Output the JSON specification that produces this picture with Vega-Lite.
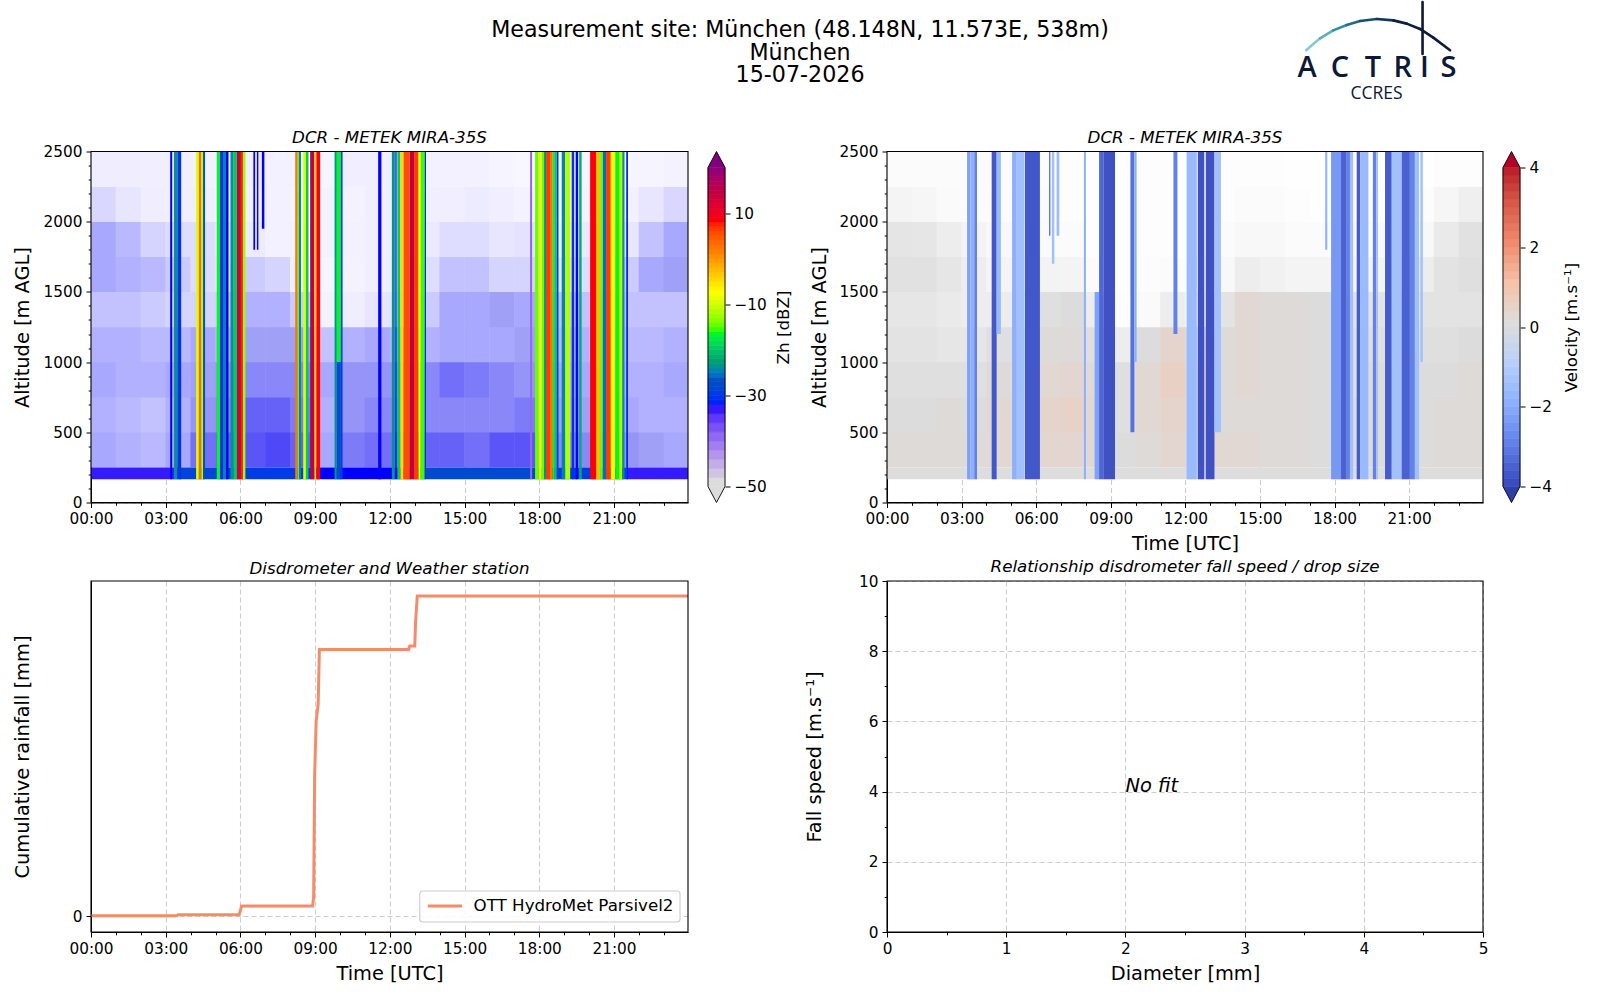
{"$schema":"https://vega.github.io/schema/vega-lite/v6.json","background":"#ffffff","padding":{"left":12,"top":0,"right":0,"bottom":12},"bounds":"flush","columns":5,"spacing":{"row":78.5,"column":20},"resolve":{"scale":{"color":"independent","stroke":"independent"}},
"config":{"view":{"stroke":null},"font":"DejaVu Sans","axis":{"labelFont":"DejaVu Sans","labelFontSize":15.3,"labelColor":"#000000","tickColor":"#000000","tickSize":5,"labelPadding":4,"domainColor":"#000000","gridDash":[5,3],"gridColor":"#cccccc","gridWidth":1.1,"titleFont":"DejaVu Sans","titleFontSize":19.4,"titleFontWeight":"normal","titleColor":"#000000","labelOverlap":false,"labelFlush":false,"labelBound":false,"format":"d","zindex":1},"title":{"font":"DejaVu Sans","fontSize":16.7,"fontStyle":"italic","fontWeight":"normal","offset":-2,"anchor":"middle","frame":"group","color":"#000000"}},
"datasets":{
"zbg":[{"t":0.5,"h":375,"d":0.45},{"t":0.5,"h":625,"d":0.4},{"t":0.5,"h":875,"d":0.45},{"t":0.5,"h":1125,"d":0.4},{"t":0.5,"h":1375,"d":0.3},{"t":0.5,"h":1625,"d":0.45},{"t":0.5,"h":1875,"d":0.45},{"t":0.5,"h":2125,"d":0.18},{"t":0.5,"h":2375,"d":0.06},
{"t":1.5,"h":375,"d":0.4},{"t":1.5,"h":625,"d":0.35},{"t":1.5,"h":875,"d":0.4},{"t":1.5,"h":1125,"d":0.4},{"t":1.5,"h":1375,"d":0.3},{"t":1.5,"h":1625,"d":0.4},{"t":1.5,"h":1875,"d":0.35},{"t":1.5,"h":2125,"d":0.1},{"t":1.5,"h":2375,"d":0.06},
{"t":2.5,"h":375,"d":0.35},{"t":2.5,"h":625,"d":0.3},{"t":2.5,"h":875,"d":0.4},{"t":2.5,"h":1125,"d":0.35},{"t":2.5,"h":1375,"d":0.25},{"t":2.5,"h":1625,"d":0.35},{"t":2.5,"h":1875,"d":0.2},{"t":2.5,"h":2125,"d":0.06},{"t":2.5,"h":2375,"d":0.05},
{"t":3.5,"h":375,"d":0.45},{"t":3.5,"h":625,"d":0.4},{"t":3.5,"h":875,"d":0.45},{"t":3.5,"h":1125,"d":0.35},{"t":3.5,"h":1375,"d":0.2},{"t":3.5,"h":1625,"d":0.25},{"t":3.5,"h":1875,"d":0.15},{"t":3.5,"h":2125,"d":0.05},{"t":3.5,"h":2375,"d":0.05},
{"t":4.5,"h":375,"d":0.7},{"t":4.5,"h":625,"d":0.55},{"t":4.5,"h":875,"d":0.5},{"t":4.5,"h":1125,"d":0.45},{"t":4.5,"h":1375,"d":0.2},{"t":4.5,"h":1625,"d":0.15},{"t":4.5,"h":1875,"d":0.15},{"t":4.5,"h":2125,"d":0.05},{"t":4.5,"h":2375,"d":0.04},
{"t":5.5,"h":375,"d":0.75},{"t":5.5,"h":625,"d":0.6},{"t":5.5,"h":875,"d":0.55},{"t":5.5,"h":1125,"d":0.4},{"t":5.5,"h":1375,"d":0.25},{"t":5.5,"h":1625,"d":0.12},{"t":5.5,"h":1875,"d":0.1},{"t":5.5,"h":2125,"d":0.03},{"t":5.5,"h":2375,"d":0.03},
{"t":6.5,"h":375,"d":0.8},{"t":6.5,"h":625,"d":0.75},{"t":6.5,"h":875,"d":0.6},{"t":6.5,"h":1125,"d":0.5},{"t":6.5,"h":1375,"d":0.4},{"t":6.5,"h":1625,"d":0.25},{"t":6.5,"h":1875,"d":0.07},{"t":6.5,"h":2125,"d":0.04},{"t":6.5,"h":2375,"d":0.05},
{"t":7.5,"h":375,"d":0.85},{"t":7.5,"h":625,"d":0.75},{"t":7.5,"h":875,"d":0.6},{"t":7.5,"h":1125,"d":0.5},{"t":7.5,"h":1375,"d":0.4},{"t":7.5,"h":1625,"d":0.2},{"t":7.5,"h":1875,"d":0.04},{"t":7.5,"h":2125,"d":0.04},{"t":7.5,"h":2375,"d":0.04},
{"t":8.5,"h":375,"d":0.75},{"t":8.5,"h":625,"d":0.65},{"t":8.5,"h":875,"d":0.6},{"t":8.5,"h":1125,"d":0.5},{"t":8.5,"h":1375,"d":0.25},{"t":8.5,"h":1625,"d":0.05},{"t":8.5,"h":1875,"d":0.03},{"t":8.5,"h":2125,"d":0.02},{"t":8.5,"h":2375,"d":0.03},
{"t":9.5,"h":375,"d":0.45},{"t":9.5,"h":625,"d":0.4},{"t":9.5,"h":875,"d":0.45},{"t":9.5,"h":1125,"d":0.3},{"t":9.5,"h":1375,"d":0.03},{"t":9.5,"h":1625,"d":0.02},{"t":9.5,"h":1875,"d":0.03},{"t":9.5,"h":2125,"d":0.03},{"t":9.5,"h":2375,"d":0.02},
{"t":10.5,"h":375,"d":0.65},{"t":10.5,"h":625,"d":0.55},{"t":10.5,"h":875,"d":0.55},{"t":10.5,"h":1125,"d":0.4},{"t":10.5,"h":1375,"d":0.06},{"t":10.5,"h":1625,"d":0.03},{"t":10.5,"h":1875,"d":0.04},{"t":10.5,"h":2125,"d":0.03},{"t":10.5,"h":2375,"d":0.05},
{"t":11.5,"h":375,"d":0.7},{"t":11.5,"h":625,"d":0.6},{"t":11.5,"h":875,"d":0.55},{"t":11.5,"h":1125,"d":0.45},{"t":11.5,"h":1375,"d":0.1},{"t":11.5,"h":1625,"d":0.05},{"t":11.5,"h":1875,"d":0.05},{"t":11.5,"h":2125,"d":0.05},{"t":11.5,"h":2375,"d":0.05},
{"t":12.5,"h":375,"d":0.7},{"t":12.5,"h":625,"d":0.6},{"t":12.5,"h":875,"d":0.55},{"t":12.5,"h":1125,"d":0.4},{"t":12.5,"h":1375,"d":0.12},{"t":12.5,"h":1625,"d":0.06},{"t":12.5,"h":1875,"d":0.05},{"t":12.5,"h":2125,"d":0.05},{"t":12.5,"h":2375,"d":0.05},
{"t":13.5,"h":375,"d":0.75},{"t":13.5,"h":625,"d":0.6},{"t":13.5,"h":875,"d":0.6},{"t":13.5,"h":1125,"d":0.4},{"t":13.5,"h":1375,"d":0.25},{"t":13.5,"h":1625,"d":0.15},{"t":13.5,"h":1875,"d":0.08},{"t":13.5,"h":2125,"d":0.05},{"t":13.5,"h":2375,"d":0.04},
{"t":14.5,"h":375,"d":0.75},{"t":14.5,"h":625,"d":0.6},{"t":14.5,"h":875,"d":0.7},{"t":14.5,"h":1125,"d":0.45},{"t":14.5,"h":1375,"d":0.45},{"t":14.5,"h":1625,"d":0.3},{"t":14.5,"h":1875,"d":0.15},{"t":14.5,"h":2125,"d":0.05},{"t":14.5,"h":2375,"d":0.04},
{"t":15.5,"h":375,"d":0.7},{"t":15.5,"h":625,"d":0.6},{"t":15.5,"h":875,"d":0.65},{"t":15.5,"h":1125,"d":0.45},{"t":15.5,"h":1375,"d":0.45},{"t":15.5,"h":1625,"d":0.3},{"t":15.5,"h":1875,"d":0.15},{"t":15.5,"h":2125,"d":0.07},{"t":15.5,"h":2375,"d":0.04},
{"t":16.5,"h":375,"d":0.8},{"t":16.5,"h":625,"d":0.6},{"t":16.5,"h":875,"d":0.6},{"t":16.5,"h":1125,"d":0.45},{"t":16.5,"h":1375,"d":0.5},{"t":16.5,"h":1625,"d":0.2},{"t":16.5,"h":1875,"d":0.1},{"t":16.5,"h":2125,"d":0.05},{"t":16.5,"h":2375,"d":0.02},
{"t":17.5,"h":375,"d":0.8},{"t":17.5,"h":625,"d":0.65},{"t":17.5,"h":875,"d":0.55},{"t":17.5,"h":1125,"d":0.5},{"t":17.5,"h":1375,"d":0.45},{"t":17.5,"h":1625,"d":0.2},{"t":17.5,"h":1875,"d":0.12},{"t":17.5,"h":2125,"d":0.03},{"t":17.5,"h":2375,"d":0.01},
{"t":18.5,"h":375,"d":0.6},{"t":18.5,"h":625,"d":0.5},{"t":18.5,"h":875,"d":0.45},{"t":18.5,"h":1125,"d":0.35},{"t":18.5,"h":1375,"d":0.3},{"t":18.5,"h":1625,"d":0.1},{"t":18.5,"h":1875,"d":0.03},{"t":18.5,"h":2125,"d":0.01},{"t":18.5,"h":2375,"d":0.01},
{"t":19.5,"h":375,"d":0.6},{"t":19.5,"h":625,"d":0.5},{"t":19.5,"h":875,"d":0.45},{"t":19.5,"h":1125,"d":0.4},{"t":19.5,"h":1375,"d":0.3},{"t":19.5,"h":1625,"d":0.15},{"t":19.5,"h":1875,"d":0.08},{"t":19.5,"h":2125,"d":0.03},{"t":19.5,"h":2375,"d":0.02},
{"t":20.5,"h":375,"d":0.6},{"t":20.5,"h":625,"d":0.5},{"t":20.5,"h":875,"d":0.45},{"t":20.5,"h":1125,"d":0.35},{"t":20.5,"h":1375,"d":0.3},{"t":20.5,"h":1625,"d":0.15},{"t":20.5,"h":1875,"d":0.08},{"t":20.5,"h":2125,"d":0.03},{"t":20.5,"h":2375,"d":0.02},
{"t":21.5,"h":375,"d":0.55},{"t":21.5,"h":625,"d":0.45},{"t":21.5,"h":875,"d":0.4},{"t":21.5,"h":1125,"d":0.35},{"t":21.5,"h":1375,"d":0.3},{"t":21.5,"h":1625,"d":0.25},{"t":21.5,"h":1875,"d":0.1},{"t":21.5,"h":2125,"d":0.04},{"t":21.5,"h":2375,"d":0.02},
{"t":22.5,"h":375,"d":0.5},{"t":22.5,"h":625,"d":0.4},{"t":22.5,"h":875,"d":0.4},{"t":22.5,"h":1125,"d":0.35},{"t":22.5,"h":1375,"d":0.3},{"t":22.5,"h":1625,"d":0.45},{"t":22.5,"h":1875,"d":0.3},{"t":22.5,"h":2125,"d":0.1},{"t":22.5,"h":2375,"d":0.02},
{"t":23.5,"h":375,"d":0.45},{"t":23.5,"h":625,"d":0.4},{"t":23.5,"h":875,"d":0.45},{"t":23.5,"h":1125,"d":0.4},{"t":23.5,"h":1375,"d":0.3},{"t":23.5,"h":1625,"d":0.5},{"t":23.5,"h":1875,"d":0.45},{"t":23.5,"h":2125,"d":0.18},{"t":23.5,"h":2375,"d":0.03}],
"zst":[{"t":0,"t2":3.4,"h":165,"h2":250,"z":-34},{"t":3.4,"t2":6,"h":165,"h2":250,"z":-29},{"t":6,"t2":9,"h":165,"h2":250,"z":-30},{"t":9,"t2":10,"h":165,"h2":250,"z":-33},{"t":10,"t2":12.5,"h":165,"h2":250,"z":-33},{"t":12.5,"t2":18,"h":165,"h2":250,"z":-28},{"t":18,"t2":21.5,"h":165,"h2":250,"z":-30},{"t":21.5,"t2":24,"h":165,"h2":250,"z":-34},
{"t":3.18,"t2":3.26,"h":165,"h2":2500,"z":-33},{"t":3.33,"t2":3.47,"h":165,"h2":2500,"z":-24},{"t":3.47,"t2":3.62,"h":165,"h2":2500,"z":-31},{"t":4.22,"t2":4.33,"h":165,"h2":2500,"z":-10},{"t":4.33,"t2":4.43,"h":165,"h2":2500,"z":3},{"t":4.43,"t2":4.5,"h":165,"h2":2500,"z":-12},{"t":4.5,"t2":4.58,"h":165,"h2":2500,"z":-27},{"t":5.05,"t2":5.18,"h":165,"h2":2500,"z":-17},{"t":5.18,"t2":5.3,"h":165,"h2":2500,"z":-31},{"t":5.3,"t2":5.42,"h":165,"h2":2500,"z":-25},{"t":5.42,"t2":5.52,"h":165,"h2":2500,"z":-33},{"t":5.6,"t2":5.73,"h":165,"h2":2500,"z":-24},{"t":5.73,"t2":5.86,"h":165,"h2":2500,"z":-20},{"t":5.86,"t2":6.02,"h":165,"h2":2500,"z":13},{"t":6.02,"t2":6.1,"h":165,"h2":2500,"z":7},{"t":6.1,"t2":6.2,"h":165,"h2":2500,"z":-13},{"t":6.52,"t2":6.59,"h":1800,"h2":2500,"z":-33},{"t":6.66,"t2":6.72,"h":1800,"h2":2500,"z":-33},{"t":6.86,"t2":6.96,"h":1950,"h2":2500,"z":-33},{"t":8.2,"t2":8.3,"h":165,"h2":2500,"z":2},{"t":8.3,"t2":8.35,"h":165,"h2":2500,"z":-15},{"t":8.35,"t2":8.43,"h":165,"h2":2500,"z":-25},{"t":8.52,"t2":8.63,"h":165,"h2":2500,"z":-10},{"t":8.63,"t2":8.73,"h":165,"h2":2500,"z":-20},{"t":8.8,"t2":8.97,"h":165,"h2":2500,"z":15},{"t":8.97,"t2":9.05,"h":165,"h2":2500,"z":-5},{"t":9.05,"t2":9.2,"h":165,"h2":2500,"z":8},{"t":9.78,"t2":9.87,"h":165,"h2":2500,"z":-24},{"t":9.87,"t2":10.03,"h":1000,"h2":2500,"z":-17},{"t":9.87,"t2":10.03,"h":165,"h2":1000,"z":-28},{"t":10.03,"t2":10.1,"h":165,"h2":2500,"z":-30},{"t":11.53,"t2":11.66,"h":165,"h2":2500,"z":-33},{"t":12.08,"t2":12.2,"h":165,"h2":2500,"z":-24},{"t":12.22,"t2":12.27,"h":165,"h2":2500,"z":-33},{"t":12.3,"t2":12.42,"h":165,"h2":2500,"z":-20},{"t":12.42,"t2":12.55,"h":165,"h2":2500,"z":-5},{"t":12.55,"t2":12.8,"h":165,"h2":2500,"z":5},{"t":12.8,"t2":12.97,"h":165,"h2":2500,"z":14},{"t":12.97,"t2":13.15,"h":165,"h2":2500,"z":6},{"t":13.15,"t2":13.24,"h":165,"h2":2500,"z":-10},{"t":13.24,"t2":13.4,"h":165,"h2":2500,"z":-16},{"t":13.4,"t2":13.45,"h":165,"h2":2500,"z":-32},{"t":17.63,"t2":17.71,"h":165,"h2":2500,"z":-40},{"t":17.83,"t2":17.96,"h":165,"h2":2500,"z":-15},{"t":17.96,"t2":18.03,"h":165,"h2":2500,"z":-11},{"t":18.03,"t2":18.1,"h":165,"h2":2500,"z":-8},{"t":18.1,"t2":18.19,"h":165,"h2":2500,"z":-15},{"t":18.19,"t2":18.27,"h":165,"h2":2500,"z":-24},{"t":18.27,"t2":18.43,"h":165,"h2":2500,"z":6},{"t":18.43,"t2":18.54,"h":165,"h2":2500,"z":2},{"t":18.54,"t2":18.6,"h":165,"h2":2500,"z":-17},{"t":18.6,"t2":18.7,"h":165,"h2":2500,"z":-20},{"t":18.7,"t2":18.77,"h":165,"h2":2500,"z":-30},{"t":18.9,"t2":19.04,"h":165,"h2":2500,"z":-25},{"t":19.04,"t2":19.24,"h":165,"h2":2500,"z":-12},{"t":19.3,"t2":19.4,"h":165,"h2":2500,"z":-31},{"t":19.46,"t2":19.56,"h":165,"h2":2500,"z":-33},{"t":19.6,"t2":19.7,"h":165,"h2":2500,"z":-22},{"t":20.04,"t2":20.28,"h":165,"h2":2500,"z":8},{"t":20.28,"t2":20.44,"h":165,"h2":2500,"z":-3},{"t":20.44,"t2":20.55,"h":165,"h2":2500,"z":-15},{"t":20.55,"t2":20.68,"h":165,"h2":2500,"z":-26},{"t":20.68,"t2":20.87,"h":165,"h2":2500,"z":6},{"t":20.87,"t2":21.05,"h":165,"h2":2500,"z":-8},{"t":21.05,"t2":21.2,"h":165,"h2":2500,"z":-17},{"t":21.2,"t2":21.33,"h":165,"h2":2500,"z":-12},{"t":21.33,"t2":21.42,"h":165,"h2":2500,"z":-24},{"t":21.49,"t2":21.56,"h":165,"h2":2500,"z":-32}],
"vbg":[{"t":0.5,"h":375,"d":1.1},{"t":0.5,"h":625,"d":1},{"t":0.5,"h":875,"d":0.9},{"t":0.5,"h":1125,"d":0.8},{"t":0.5,"h":1375,"d":0.7},{"t":0.5,"h":1625,"d":0.85},{"t":0.5,"h":1875,"d":0.75},{"t":0.5,"h":2125,"d":0.3},{"t":0.5,"h":2375,"d":0.12},
{"t":1.5,"h":375,"d":1.1},{"t":1.5,"h":625,"d":1},{"t":1.5,"h":875,"d":0.9},{"t":1.5,"h":1125,"d":0.8},{"t":1.5,"h":1375,"d":0.7},{"t":1.5,"h":1625,"d":0.85},{"t":1.5,"h":1875,"d":0.7},{"t":1.5,"h":2125,"d":0.25},{"t":1.5,"h":2375,"d":0.12},
{"t":2.5,"h":375,"d":1.1},{"t":2.5,"h":625,"d":1.1},{"t":2.5,"h":875,"d":0.9},{"t":2.5,"h":1125,"d":0.7},{"t":2.5,"h":1375,"d":0.6},{"t":2.5,"h":1625,"d":0.7},{"t":2.5,"h":1875,"d":0.5},{"t":2.5,"h":2125,"d":0.15},{"t":2.5,"h":2375,"d":0.1},
{"t":3.5,"h":375,"d":1.1},{"t":3.5,"h":625,"d":1},{"t":3.5,"h":875,"d":0.9},{"t":3.5,"h":1125,"d":0.7},{"t":3.5,"h":1375,"d":0.5},{"t":3.5,"h":1625,"d":0.5},{"t":3.5,"h":1875,"d":0.3},{"t":3.5,"h":2125,"d":0.12},{"t":3.5,"h":2375,"d":0.1},
{"t":4.5,"h":375,"d":1.2},{"t":4.5,"h":625,"d":1.2},{"t":4.5,"h":875,"d":1.1},{"t":4.5,"h":1125,"d":0.9},{"t":4.5,"h":1375,"d":0.5},{"t":4.5,"h":1625,"d":0.3},{"t":4.5,"h":1875,"d":0.2},{"t":4.5,"h":2125,"d":0.1},{"t":4.5,"h":2375,"d":0.1},
{"t":5.5,"h":375,"d":1.3},{"t":5.5,"h":625,"d":1.3},{"t":5.5,"h":875,"d":1.2},{"t":5.5,"h":1125,"d":1},{"t":5.5,"h":1375,"d":0.6},{"t":5.5,"h":1625,"d":0.3},{"t":5.5,"h":1875,"d":0.2},{"t":5.5,"h":2125,"d":0.1},{"t":5.5,"h":2375,"d":0.1},
{"t":6.5,"h":375,"d":1.3},{"t":6.5,"h":625,"d":1.4},{"t":6.5,"h":875,"d":1.2},{"t":6.5,"h":1125,"d":1.1},{"t":6.5,"h":1375,"d":0.9},{"t":6.5,"h":1625,"d":0.35},{"t":6.5,"h":1875,"d":0.15},{"t":6.5,"h":2125,"d":0.1},{"t":6.5,"h":2375,"d":0.08},
{"t":7.5,"h":375,"d":1.3},{"t":7.5,"h":625,"d":1.5},{"t":7.5,"h":875,"d":1.3},{"t":7.5,"h":1125,"d":1.1},{"t":7.5,"h":1375,"d":1},{"t":7.5,"h":1625,"d":0.3},{"t":7.5,"h":1875,"d":0.1},{"t":7.5,"h":2125,"d":0.05},{"t":7.5,"h":2375,"d":0.05},
{"t":8.5,"h":375,"d":1.2},{"t":8.5,"h":625,"d":1.2},{"t":8.5,"h":875,"d":1.1},{"t":8.5,"h":1125,"d":0.9},{"t":8.5,"h":1375,"d":0.5},{"t":8.5,"h":1625,"d":0.1},{"t":8.5,"h":1875,"d":0.05},{"t":8.5,"h":2125,"d":0.05},{"t":8.5,"h":2375,"d":0.05},
{"t":9.5,"h":375,"d":1},{"t":9.5,"h":625,"d":0.9},{"t":9.5,"h":875,"d":0.9},{"t":9.5,"h":1125,"d":0.5},{"t":9.5,"h":1375,"d":0.05},{"t":9.5,"h":1625,"d":0.03},{"t":9.5,"h":1875,"d":0.03},{"t":9.5,"h":2125,"d":0.03},{"t":9.5,"h":2375,"d":0.03},
{"t":10.5,"h":375,"d":1.1},{"t":10.5,"h":625,"d":1.2},{"t":10.5,"h":875,"d":1.2},{"t":10.5,"h":1125,"d":1},{"t":10.5,"h":1375,"d":0.15},{"t":10.5,"h":1625,"d":0.08},{"t":10.5,"h":1875,"d":0.05},{"t":10.5,"h":2125,"d":0.05},{"t":10.5,"h":2375,"d":0.05},
{"t":11.5,"h":375,"d":1.3},{"t":11.5,"h":625,"d":1.4},{"t":11.5,"h":875,"d":1.6},{"t":11.5,"h":1125,"d":1.4},{"t":11.5,"h":1375,"d":0.5},{"t":11.5,"h":1625,"d":0.1},{"t":11.5,"h":1875,"d":0.05},{"t":11.5,"h":2125,"d":0.05},{"t":11.5,"h":2375,"d":0.05},
{"t":12.5,"h":375,"d":1.2},{"t":12.5,"h":625,"d":1.2},{"t":12.5,"h":875,"d":1.2},{"t":12.5,"h":1125,"d":1},{"t":12.5,"h":1375,"d":0.3},{"t":12.5,"h":1625,"d":0.1},{"t":12.5,"h":1875,"d":0.05},{"t":12.5,"h":2125,"d":0.05},{"t":12.5,"h":2375,"d":0.05},
{"t":13.5,"h":375,"d":1.2},{"t":13.5,"h":625,"d":1.1},{"t":13.5,"h":875,"d":1.1},{"t":13.5,"h":1125,"d":1.1},{"t":13.5,"h":1375,"d":0.8},{"t":13.5,"h":1625,"d":0.2},{"t":13.5,"h":1875,"d":0.1},{"t":13.5,"h":2125,"d":0.05},{"t":13.5,"h":2375,"d":0.05},
{"t":14.5,"h":375,"d":1.2},{"t":14.5,"h":625,"d":1.1},{"t":14.5,"h":875,"d":1.2},{"t":14.5,"h":1125,"d":1.2},{"t":14.5,"h":1375,"d":1.2},{"t":14.5,"h":1625,"d":0.5},{"t":14.5,"h":1875,"d":0.2},{"t":14.5,"h":2125,"d":0.1},{"t":14.5,"h":2375,"d":0.05},
{"t":15.5,"h":375,"d":1.1},{"t":15.5,"h":625,"d":1.1},{"t":15.5,"h":875,"d":1.1},{"t":15.5,"h":1125,"d":1.1},{"t":15.5,"h":1375,"d":1.1},{"t":15.5,"h":1625,"d":0.4},{"t":15.5,"h":1875,"d":0.2},{"t":15.5,"h":2125,"d":0.1},{"t":15.5,"h":2375,"d":0.05},
{"t":16.5,"h":375,"d":1.1},{"t":16.5,"h":625,"d":1.1},{"t":16.5,"h":875,"d":1.1},{"t":16.5,"h":1125,"d":1.1},{"t":16.5,"h":1375,"d":1.1},{"t":16.5,"h":1625,"d":0.3},{"t":16.5,"h":1875,"d":0.1},{"t":16.5,"h":2125,"d":0.05},{"t":16.5,"h":2375,"d":0.03},
{"t":17.5,"h":375,"d":1},{"t":17.5,"h":625,"d":1},{"t":17.5,"h":875,"d":1},{"t":17.5,"h":1125,"d":1},{"t":17.5,"h":1375,"d":1},{"t":17.5,"h":1625,"d":0.3},{"t":17.5,"h":1875,"d":0.1},{"t":17.5,"h":2125,"d":0.03},{"t":17.5,"h":2375,"d":0.02},
{"t":18.5,"h":375,"d":1},{"t":18.5,"h":625,"d":1},{"t":18.5,"h":875,"d":0.9},{"t":18.5,"h":1125,"d":0.9},{"t":18.5,"h":1375,"d":0.8},{"t":18.5,"h":1625,"d":0.2},{"t":18.5,"h":1875,"d":0.1},{"t":18.5,"h":2125,"d":0.03},{"t":18.5,"h":2375,"d":0.02},
{"t":19.5,"h":375,"d":1},{"t":19.5,"h":625,"d":1},{"t":19.5,"h":875,"d":1},{"t":19.5,"h":1125,"d":0.9},{"t":19.5,"h":1375,"d":0.8},{"t":19.5,"h":1625,"d":0.3},{"t":19.5,"h":1875,"d":0.15},{"t":19.5,"h":2125,"d":0.05},{"t":19.5,"h":2375,"d":0.03},
{"t":20.5,"h":375,"d":1},{"t":20.5,"h":625,"d":1},{"t":20.5,"h":875,"d":1},{"t":20.5,"h":1125,"d":0.9},{"t":20.5,"h":1375,"d":0.8},{"t":20.5,"h":1625,"d":0.3},{"t":20.5,"h":1875,"d":0.15},{"t":20.5,"h":2125,"d":0.05},{"t":20.5,"h":2375,"d":0.03},
{"t":21.5,"h":375,"d":1},{"t":21.5,"h":625,"d":1},{"t":21.5,"h":875,"d":1},{"t":21.5,"h":1125,"d":0.9},{"t":21.5,"h":1375,"d":0.8},{"t":21.5,"h":1625,"d":0.5},{"t":21.5,"h":1875,"d":0.2},{"t":21.5,"h":2125,"d":0.08},{"t":21.5,"h":2375,"d":0.03},
{"t":22.5,"h":375,"d":1.1},{"t":22.5,"h":625,"d":1.1},{"t":22.5,"h":875,"d":1},{"t":22.5,"h":1125,"d":0.9},{"t":22.5,"h":1375,"d":0.8},{"t":22.5,"h":1625,"d":0.8},{"t":22.5,"h":1875,"d":0.6},{"t":22.5,"h":2125,"d":0.25},{"t":22.5,"h":2375,"d":0.05},
{"t":23.5,"h":375,"d":1.1},{"t":23.5,"h":625,"d":1.1},{"t":23.5,"h":875,"d":1.1},{"t":23.5,"h":1125,"d":1},{"t":23.5,"h":1375,"d":0.8},{"t":23.5,"h":1625,"d":0.9},{"t":23.5,"h":1875,"d":0.85},{"t":23.5,"h":2125,"d":0.45},{"t":23.5,"h":2375,"d":0.06}],
"vst":[{"t":0,"t2":24,"h":165,"h2":250,"z":0},
{"t":3.22,"t2":3.35,"h":165,"h2":2500,"z":-2.3},{"t":3.35,"t2":3.51,"h":165,"h2":2500,"z":-2},{"t":3.51,"t2":3.62,"h":165,"h2":2500,"z":-3},{"t":4.21,"t2":4.41,"h":165,"h2":2500,"z":-3.8},{"t":4.41,"t2":4.58,"h":1200,"h2":2500,"z":-1.7},{"t":5.03,"t2":5.22,"h":165,"h2":2500,"z":-2},{"t":5.22,"t2":5.53,"h":165,"h2":2500,"z":-1.5},{"t":5.55,"t2":6.15,"h":165,"h2":2500,"z":-3.8},{"t":6.52,"t2":6.57,"h":1900,"h2":2500,"z":-3.5},{"t":6.63,"t2":6.73,"h":1700,"h2":2500,"z":-1.5},{"t":6.82,"t2":6.93,"h":1900,"h2":2500,"z":-1.6},{"t":7.92,"t2":8,"h":165,"h2":2500,"z":-2},{"t":8.35,"t2":8.53,"h":165,"h2":1500,"z":-2.3},{"t":8.53,"t2":8.7,"h":165,"h2":2500,"z":-3.5},{"t":8.7,"t2":9.17,"h":165,"h2":2500,"z":-3.9},{"t":9.79,"t2":9.95,"h":500,"h2":2500,"z":-3.3},{"t":9.95,"t2":10.04,"h":1000,"h2":2500,"z":-2},{"t":11.52,"t2":11.68,"h":1200,"h2":2500,"z":-3},{"t":12.05,"t2":12.46,"h":165,"h2":2500,"z":-1.7},{"t":12.5,"t2":12.76,"h":165,"h2":2500,"z":-3.9},{"t":12.82,"t2":13.17,"h":165,"h2":2500,"z":-3.9},{"t":13.17,"t2":13.43,"h":500,"h2":2500,"z":-1.5},{"t":17.62,"t2":17.71,"h":1800,"h2":2500,"z":-1.8},{"t":17.86,"t2":18.26,"h":165,"h2":2500,"z":-2.5},{"t":18.26,"t2":18.49,"h":165,"h2":2500,"z":-3.6},{"t":18.49,"t2":18.62,"h":165,"h2":2500,"z":-3},{"t":18.62,"t2":18.75,"h":165,"h2":2500,"z":-1.5},{"t":18.89,"t2":19.03,"h":165,"h2":2500,"z":-3.7},{"t":19.03,"t2":19.36,"h":165,"h2":2500,"z":-1.7},{"t":19.54,"t2":19.67,"h":165,"h2":2500,"z":-3},{"t":19.67,"t2":19.75,"h":165,"h2":2500,"z":-1.4},{"t":20.03,"t2":20.3,"h":165,"h2":2500,"z":-3.7},{"t":20.3,"t2":20.7,"h":165,"h2":2500,"z":-1.5},{"t":20.7,"t2":21.03,"h":165,"h2":2500,"z":-3.6},{"t":21.03,"t2":21.23,"h":165,"h2":2500,"z":-3},{"t":21.23,"t2":21.4,"h":165,"h2":2500,"z":-1.5},{"t":21.45,"t2":21.55,"h":1000,"h2":2500,"z":-1.5}],
"minor":[{"t":0,"h":0}],
"none":[],
"cbz":[{"v":-50,"v2":-48},{"v":-48,"v2":-46},{"v":-46,"v2":-44},{"v":-44,"v2":-42},{"v":-42,"v2":-40},{"v":-40,"v2":-38},{"v":-38,"v2":-36},{"v":-36,"v2":-34},{"v":-34,"v2":-32},{"v":-32,"v2":-31},{"v":-31,"v2":-30},{"v":-30,"v2":-29},{"v":-29,"v2":-28},{"v":-28,"v2":-27},{"v":-27,"v2":-26},{"v":-26,"v2":-25},{"v":-25,"v2":-24},{"v":-24,"v2":-23},{"v":-23,"v2":-22},{"v":-22,"v2":-21},{"v":-21,"v2":-20},{"v":-20,"v2":-19},{"v":-19,"v2":-18},{"v":-18,"v2":-17},{"v":-17,"v2":-16},{"v":-16,"v2":-15},{"v":-15,"v2":-14},{"v":-14,"v2":-13},{"v":-13,"v2":-12},{"v":-12,"v2":-11},{"v":-11,"v2":-10},{"v":-10,"v2":-9},{"v":-9,"v2":-8},{"v":-8,"v2":-7},{"v":-7,"v2":-6},{"v":-6,"v2":-5},{"v":-5,"v2":-4},{"v":-4,"v2":-3},{"v":-3,"v2":-2},{"v":-2,"v2":-1},{"v":-1,"v2":0},{"v":0,"v2":1},{"v":1,"v2":2},{"v":2,"v2":3},{"v":3,"v2":4},{"v":4,"v2":5},{"v":5,"v2":6},{"v":6,"v2":7},{"v":7,"v2":8},{"v":8,"v2":9},{"v":9,"v2":10},{"v":10,"v2":11},{"v":11,"v2":12},{"v":12,"v2":13},{"v":13,"v2":14},{"v":14,"v2":15},{"v":15,"v2":16},{"v":16,"v2":17},{"v":17,"v2":18},{"v":18,"v2":19},{"v":19,"v2":20}],
"cbv":[{"v":-4,"v2":-3.8},{"v":-3.8,"v2":-3.6},{"v":-3.6,"v2":-3.4},{"v":-3.4,"v2":-3.2},{"v":-3.2,"v2":-3},{"v":-3,"v2":-2.8},{"v":-2.8,"v2":-2.6},{"v":-2.6,"v2":-2.4},{"v":-2.4,"v2":-2.2},{"v":-2.2,"v2":-2},{"v":-2,"v2":-1.8},{"v":-1.8,"v2":-1.6},{"v":-1.6,"v2":-1.4},{"v":-1.4,"v2":-1.2},{"v":-1.2,"v2":-1},{"v":-1,"v2":-0.8},{"v":-0.8,"v2":-0.6},{"v":-0.6,"v2":-0.4},{"v":-0.4,"v2":-0.2},{"v":-0.2,"v2":0},{"v":0,"v2":0.2},{"v":0.2,"v2":0.4},{"v":0.4,"v2":0.6},{"v":0.6,"v2":0.8},{"v":0.8,"v2":1},{"v":1,"v2":1.2},{"v":1.2,"v2":1.4},{"v":1.4,"v2":1.6},{"v":1.6,"v2":1.8},{"v":1.8,"v2":2},{"v":2,"v2":2.2},{"v":2.2,"v2":2.4},{"v":2.4,"v2":2.6},{"v":2.6,"v2":2.8},{"v":2.8,"v2":3},{"v":3,"v2":3.2},{"v":3.2,"v2":3.4},{"v":3.4,"v2":3.6},{"v":3.6,"v2":3.8},{"v":3.8,"v2":4}]
},
"concat":[
{"width":597,"height":71.5,"layer":[
{"data":{"values":[{"x":50,"y":22,"s":"Measurement site: München (48.148N, 11.573E, 538m)"},{"x":50,"y":40,"s":"München"},{"x":50,"y":57.3,"s":"15-07-2026"}]},"mark":{"type":"text","font":"DejaVu Sans","fontSize":22.2,"baseline":"middle","align":"center","color":"#000000"},"encoding":{"x":{"field":"x","type":"quantitative","scale":{"domain":[0,42.1],"nice":false,"zero":false},"axis":null},"y":{"field":"y","type":"quantitative","scale":{"domain":[55,0],"nice":false,"zero":false},"axis":null},"text":{"field":"s"}}},
{"data":{"values":[{"x":85.69,"y":37.9,"x2":86.67,"y2":28.7,"g":0},{"x":86.67,"y":28.7,"x2":87.6,"y2":22.6,"g":1},{"x":87.6,"y":22.6,"x2":88.55,"y2":18.5,"g":2},{"x":88.55,"y":18.5,"x2":89.49,"y2":15.4,"g":3},{"x":89.49,"y":15.4,"x2":90.67,"y2":13.8,"g":4},{"x":90.67,"y":13.8,"x2":91.84,"y2":14.9,"g":5},{"x":91.84,"y":14.9,"x2":92.78,"y2":17.4,"g":6},{"x":92.78,"y":17.4,"x2":93.72,"y2":21.5,"g":7},{"x":93.72,"y":21.5,"x2":94.66,"y2":28.2,"g":8},{"x":94.66,"y":28.2,"x2":95.84,"y2":37.9,"g":9},{"x":93.9,"y":0.8,"x2":93.9,"y2":40.8,"g":10}]},"mark":{"type":"rule","strokeWidth":2.6,"strokeCap":"round"},"encoding":{"x":{"field":"x","type":"quantitative","axis":null},"y":{"field":"y","type":"quantitative","axis":null},"x2":{"field":"x2"},"y2":{"field":"y2"},"color":{"field":"g","type":"quantitative","legend":null,"scale":{"domain":[0,2,4,6,10],"range":["#85cccc","#2f8f9f","#14506f","#0d1f45","#0c1838"]}}}},
{"data":{"values":[{"x":85.75,"y":51.9,"s":"A"},{"x":88.08,"y":51.9,"s":"C"},{"x":90.41,"y":51.9,"s":"T"},{"x":92.5,"y":51.9,"s":"R"},{"x":94.04,"y":51.9,"s":"I"},{"x":95.73,"y":51.9,"s":"S"}]},"mark":{"type":"text","font":"Open Sans","fontSize":29,"fontWeight":600,"baseline":"middle","align":"center","color":"#0c1838"},"encoding":{"x":{"field":"x","type":"quantitative","axis":null},"y":{"field":"y","type":"quantitative","axis":null},"text":{"field":"s"}}},
{"data":{"values":[{"x":90.65,"y":71.5,"s":"CCRES"}]},"mark":{"type":"text","font":"Open Sans","fontSize":17.5,"baseline":"middle","align":"center","color":"#0c1838"},"encoding":{"x":{"field":"x","type":"quantitative","axis":null},"y":{"field":"y","type":"quantitative","axis":null},"text":{"field":"s"}}}
]},
{"width":17,"height":71.5,"data":{"name":"none"},"mark":"point"},
{"width":122,"height":71.5,"data":{"name":"none"},"mark":"point"},
{"width":596,"height":71.5,"data":{"name":"none"},"mark":"point"},
{"width":17,"height":71.5,"data":{"name":"none"},"mark":"point"},
{"title":"DCR - METEK MIRA-35S","width":597,"height":351,"resolve":{"scale":{"color":"independent"},"axis":{"x":"independent","y":"independent"}},"layer":[
{"data":{"name":"zbg"},"mark":{"type":"rect","width":25.4,"height":35.5,"clip":true},"encoding":{"x":{"field":"t","type":"quantitative","scale":{"domain":[0,23.97],"nice":false,"zero":false},"axis":{"orient":"bottom","values":[0,3,6,9,12,15,18,21],"labelExpr":"(datum.value<10?'0':'')+datum.value+':00'","grid":true,"title":null}},"y":{"field":"h","type":"quantitative","scale":{"domain":[0,2500],"nice":false,"zero":false},"axis":{"orient":"left","values":[0,500,1000,1500,2000,2500],"grid":true,"title":"Altitude [m AGL]","titleX":-59,"titleBaseline":"bottom"}},"color":{"field":"d","type":"quantitative","legend":null,"scale":{"domain":[0,0.5,1],"range":["#ffffff","#a0a0f6","#1414f0"]}}}},
{"data":{"name":"zst"},"mark":{"type":"rect","clip":true},"encoding":{"x":{"field":"t","type":"quantitative","axis":null},"x2":{"field":"t2"},"y":{"field":"h","type":"quantitative","axis":null},"y2":{"field":"h2"},"color":{"field":"z","type":"quantitative","legend":null,"scale":{"domain":[-50,-33,-27,-23,-16.5,-7.7,1,7.6,14,20],"range":["#dcdcdc","#0000ff","#0050c0","#00a070","#00ff00","#ffff00","#ff8000","#ff0000","#c00040","#800080"]}}}},
{"data":{"name":"minor"},"mark":{"type":"point","opacity":0},"encoding":{"x":{"field":"t","type":"quantitative","axis":{"orient":"bottom","values":[1,2,4,5,7,8,10,11,13,14,16,17,19,20,22,23],"labels":false,"tickSize":2.8,"domain":false,"grid":false,"title":null}},"y":{"field":"h","type":"quantitative","axis":{"orient":"left","values":[100,200,300,400,600,700,800,900,1100,1200,1300,1400,1600,1700,1800,1900,2100,2200,2300,2400],"labels":false,"tickSize":2.8,"domain":false,"grid":false,"title":null}}}},
{"data":{"name":"minor"},"mark":{"type":"rect","fillOpacity":0,"stroke":"#000000","strokeWidth":1.1},"encoding":{"x":{"datum":0,"type":"quantitative","axis":null},"x2":{"datum":23.97},"y":{"datum":0,"type":"quantitative","axis":null},"y2":{"datum":2500}}}
]},
{"width":17,"height":351,"layer":[
{"data":{"name":"cbz"},"mark":{"type":"rect","strokeWidth":0.7},"encoding":{"x":{"datum":0,"type":"quantitative","scale":{"domain":[0,1],"nice":false,"zero":false},"axis":null},"x2":{"datum":1},"y":{"field":"v","type":"quantitative","scale":{"domain":[-53.5,23.5],"nice":false,"zero":false},"axis":{"orient":"right","values":[-50,-30,-10,10],"domain":false,"grid":false,"title":"Zh [dBZ]","titleFontSize":16.7,"titleAngle":270,"titleX":67,"titleBaseline":"bottom"}},"y2":{"field":"v2"},"color":{"field":"v","type":"quantitative","legend":null,"scale":{"domain":[-50,-33,-27,-23,-16.5,-7.7,1,7.6,14,20],"range":["#dcdcdc","#0000ff","#0050c0","#00a070","#00ff00","#ffff00","#ff8000","#ff0000","#c00040","#800080"]}},"stroke":{"field":"v","type":"quantitative","legend":null,"scale":{"domain":[-50,-33,-27,-23,-16.5,-7.7,1,7.6,14,20],"range":["#dcdcdc","#0000ff","#0050c0","#00a070","#00ff00","#ffff00","#ff8000","#ff0000","#c00040","#800080"]}}}},
{"data":{"values":[{"y":-53.5,"a":0.5,"b":0.5},{"y":-50,"a":0,"b":1}]},"mark":{"type":"area","orient":"horizontal","color":"#dcdcdc"},"encoding":{"x":{"field":"a","type":"quantitative"},"x2":{"field":"b"},"y":{"field":"y","type":"quantitative"}}},
{"data":{"values":[{"y":20,"a":0,"b":1},{"y":23.5,"a":0.5,"b":0.5}]},"mark":{"type":"area","orient":"horizontal","color":"#800080"},"encoding":{"x":{"field":"a","type":"quantitative"},"x2":{"field":"b"},"y":{"field":"y","type":"quantitative"}}},
{"data":{"values":[{"o":1,"a":0,"y":-50},{"o":2,"a":0.5,"y":-53.5},{"o":3,"a":1,"y":-50},{"o":4,"a":1,"y":20},{"o":5,"a":0.5,"y":23.5},{"o":6,"a":0,"y":20},{"o":7,"a":0,"y":-50}]},"mark":{"type":"line","color":"#000000","strokeWidth":0.9},"encoding":{"x":{"field":"a","type":"quantitative"},"y":{"field":"y","type":"quantitative"},"order":{"field":"o"}}}
]},
{"width":122,"height":351,"data":{"name":"none"},"mark":"point"},
{"title":"DCR - METEK MIRA-35S","width":596,"height":351,"resolve":{"scale":{"color":"independent"},"axis":{"x":"independent","y":"independent"}},"layer":[
{"data":{"name":"vbg"},"mark":{"type":"rect","width":25.4,"height":35.5,"clip":true},"encoding":{"x":{"field":"t","type":"quantitative","scale":{"domain":[0,23.97],"nice":false,"zero":false},"axis":{"orient":"bottom","values":[0,3,6,9,12,15,18,21],"labelExpr":"(datum.value<10?'0':'')+datum.value+':00'","grid":true,"title":"Time [UTC]","titlePadding":8}},"y":{"field":"h","type":"quantitative","scale":{"domain":[0,2500],"nice":false,"zero":false},"axis":{"orient":"left","values":[0,500,1000,1500,2000,2500],"grid":true,"title":"Altitude [m AGL]","titleX":-58,"titleBaseline":"bottom"}},"color":{"field":"d","type":"quantitative","legend":null,"scale":{"domain":[0,1,2],"range":["#ffffff","#dcdcdc","#f0c8b4"]}}}},
{"data":{"name":"vst"},"mark":{"type":"rect","clip":true},"encoding":{"x":{"field":"t","type":"quantitative","axis":null},"x2":{"field":"t2"},"y":{"field":"h","type":"quantitative","axis":null},"y2":{"field":"h2"},"color":{"field":"z","type":"quantitative","legend":null,"scale":{"domain":[-4,-3,-2,-1,0,1,2,3,4],"range":["#3b4cc0","#6282ea","#8db0fe","#b8d0f9","#dddddd","#f5c2aa","#f08b6e","#d95847","#b40426"]}}}},
{"data":{"name":"minor"},"mark":{"type":"point","opacity":0},"encoding":{"x":{"field":"t","type":"quantitative","axis":{"orient":"bottom","values":[1,2,4,5,7,8,10,11,13,14,16,17,19,20,22,23],"labels":false,"tickSize":2.8,"domain":false,"grid":false,"title":null}},"y":{"field":"h","type":"quantitative","axis":{"orient":"left","values":[100,200,300,400,600,700,800,900,1100,1200,1300,1400,1600,1700,1800,1900,2100,2200,2300,2400],"labels":false,"tickSize":2.8,"domain":false,"grid":false,"title":null}}}},
{"data":{"name":"minor"},"mark":{"type":"rect","fillOpacity":0,"stroke":"#000000","strokeWidth":1.1},"encoding":{"x":{"datum":0,"type":"quantitative","axis":null},"x2":{"datum":23.97},"y":{"datum":0,"type":"quantitative","axis":null},"y2":{"datum":2500}}}
]},
{"width":17,"height":351,"layer":[
{"data":{"name":"cbv"},"mark":{"type":"rect","strokeWidth":0.7},"encoding":{"x":{"datum":0,"type":"quantitative","scale":{"domain":[0,1],"nice":false,"zero":false},"axis":null},"x2":{"datum":1},"y":{"field":"v","type":"quantitative","scale":{"domain":[-4.4,4.4],"nice":false,"zero":false},"axis":{"orient":"right","values":[-4,-2,0,2,4],"domain":false,"grid":false,"title":"Velocity [m.s⁻¹]","titleFontSize":16.7,"titleAngle":270,"titleX":60,"titleBaseline":"bottom"}},"y2":{"field":"v2"},"color":{"field":"v","type":"quantitative","legend":null,"scale":{"domain":[-4,-3,-2,-1,0,1,2,3,4],"range":["#3b4cc0","#6282ea","#8db0fe","#b8d0f9","#dddddd","#f5c2aa","#f08b6e","#d95847","#b40426"]}},"stroke":{"field":"v","type":"quantitative","legend":null,"scale":{"domain":[-4,-3,-2,-1,0,1,2,3,4],"range":["#3b4cc0","#6282ea","#8db0fe","#b8d0f9","#dddddd","#f5c2aa","#f08b6e","#d95847","#b40426"]}}}},
{"data":{"values":[{"y":-4.4,"a":0.5,"b":0.5},{"y":-4,"a":0,"b":1}]},"mark":{"type":"area","orient":"horizontal","color":"#2f3fa8"},"encoding":{"x":{"field":"a","type":"quantitative"},"x2":{"field":"b"},"y":{"field":"y","type":"quantitative"}}},
{"data":{"values":[{"y":4,"a":0,"b":1},{"y":4.4,"a":0.5,"b":0.5}]},"mark":{"type":"area","orient":"horizontal","color":"#b40426"},"encoding":{"x":{"field":"a","type":"quantitative"},"x2":{"field":"b"},"y":{"field":"y","type":"quantitative"}}},
{"data":{"values":[{"o":1,"a":0,"y":-4},{"o":2,"a":0.5,"y":-4.4},{"o":3,"a":1,"y":-4},{"o":4,"a":1,"y":4},{"o":5,"a":0.5,"y":4.4},{"o":6,"a":0,"y":4},{"o":7,"a":0,"y":-4}]},"mark":{"type":"line","color":"#000000","strokeWidth":0.9},"encoding":{"x":{"field":"a","type":"quantitative"},"y":{"field":"y","type":"quantitative"},"order":{"field":"o"}}}
]},
{"title":{"text":"Disdrometer and Weather station","offset":3},"width":597,"height":351,"resolve":{"axis":{"x":"independent","y":"independent"}},"layer":[
{"data":{"values":[{"t":0,"r":0.05},{"t":3.45,"r":0.05},{"t":3.5,"r":0.125},{"t":5.95,"r":0.125},{"t":6.05,"r":0.78},{"t":8.9,"r":0.78},{"t":8.94,"r":1.5},{"t":8.98,"r":10.6},{"t":9.04,"r":14.6},{"t":9.12,"r":15.9},{"t":9.17,"r":20},{"t":12.75,"r":20},{"t":12.8,"r":20.25},{"t":13,"r":20.25},{"t":13.03,"r":22},{"t":13.1,"r":24},{"t":23.97,"r":24}]},"mark":{"type":"line","strokeWidth":3,"clip":true,"color":"#f58b68"},"encoding":{"x":{"field":"t","type":"quantitative","scale":{"domain":[0,23.97],"nice":false,"zero":false},"axis":{"orient":"bottom","values":[0,3,6,9,12,15,18,21],"labelExpr":"(datum.value<10?'0':'')+datum.value+':00'","grid":true,"title":"Time [UTC]","titlePadding":8}},"y":{"field":"r","type":"quantitative","scale":{"domain":[-1.175,25.125],"nice":false,"zero":false},"axis":{"orient":"left","values":[0],"grid":true,"title":"Cumulative rainfall [mm]","titleX":-59,"titleBaseline":"bottom"}}}},
{"data":{"name":"minor"},"mark":{"type":"point","opacity":0},"encoding":{"x":{"field":"t","type":"quantitative","axis":{"orient":"bottom","values":[1,2,4,5,7,8,10,11,13,14,16,17,19,20,22,23],"labels":false,"tickSize":2.8,"domain":false,"grid":false,"title":null}},"y":{"field":"h","type":"quantitative","axis":null}}},
{"data":{"name":"minor"},"mark":{"type":"rect","fillOpacity":0,"stroke":"#000000","strokeWidth":1.1},"encoding":{"x":{"datum":0,"type":"quantitative","axis":null},"x2":{"datum":23.97},"y":{"datum":-1.175,"type":"quantitative","axis":null},"y2":{"datum":25.125}}},
{"data":{"name":"minor"},"mark":{"type":"rect","fill":"#ffffff","fillOpacity":0.85,"stroke":"#cccccc","strokeWidth":1.1,"cornerRadius":3},"encoding":{"x":{"datum":13.2,"type":"quantitative","axis":null},"x2":{"datum":23.65},"y":{"datum":-0.43,"type":"quantitative","axis":null},"y2":{"datum":1.9}}},
{"data":{"values":[{"a":13.52,"b":14.9,"r":0.77}]},"mark":{"type":"rule","strokeWidth":3,"color":"#f58b68"},"encoding":{"x":{"field":"a","type":"quantitative","axis":null},"x2":{"field":"b"},"y":{"field":"r","type":"quantitative","axis":null}}},
{"data":{"values":[{"t":15.36,"r":0.77,"s":"OTT HydroMet Parsivel2"}]},"mark":{"type":"text","font":"DejaVu Sans","fontSize":16.7,"align":"left","baseline":"middle","color":"#000000"},"encoding":{"x":{"field":"t","type":"quantitative","axis":null},"y":{"field":"r","type":"quantitative","axis":null},"text":{"field":"s"}}}
]},
{"width":17,"height":351,"data":{"name":"none"},"mark":"point"},
{"width":122,"height":351,"data":{"name":"none"},"mark":"point"},
{"title":"Relationship disdrometer fall speed / drop size","width":596,"height":351,"resolve":{"axis":{"x":"independent","y":"independent"}},"layer":[
{"data":{"values":[{"d":2,"v":4,"s":"No fit"}]},"mark":{"type":"text","font":"DejaVu Sans","fontSize":19.4,"fontStyle":"italic","align":"left","baseline":"alphabetic","color":"#000000"},"encoding":{"x":{"field":"d","type":"quantitative","scale":{"domain":[0,5],"nice":false,"zero":false},"axis":{"orient":"bottom","values":[0,1,2,3,4,5],"grid":true,"title":"Diameter [mm]","titlePadding":8}},"y":{"field":"v","type":"quantitative","scale":{"domain":[0,10],"nice":false,"zero":false},"axis":{"orient":"left","values":[0,2,4,6,8,10],"grid":true,"title":"Fall speed [m.s⁻¹]","titleX":-63,"titleBaseline":"bottom"}},"text":{"field":"s"}}},
{"data":{"values":[{"d":0,"v":0}]},"mark":{"type":"point","opacity":0},"encoding":{"x":{"field":"d","type":"quantitative","axis":{"orient":"bottom","values":[0.5,1.5,2.5,3.5,4.5],"labels":false,"tickSize":2.8,"domain":false,"grid":false,"title":null}},"y":{"field":"v","type":"quantitative","axis":{"orient":"left","values":[1,3,5,7,9],"labels":false,"tickSize":2.8,"domain":false,"grid":false,"title":null}}}},
{"data":{"name":"minor"},"mark":{"type":"rect","fillOpacity":0,"stroke":"#000000","strokeWidth":1.1},"encoding":{"x":{"datum":0,"type":"quantitative","axis":null},"x2":{"datum":5},"y":{"datum":0,"type":"quantitative","axis":null},"y2":{"datum":10}}}
]},
{"width":17,"height":351,"data":{"name":"none"},"mark":"point"}
]}
